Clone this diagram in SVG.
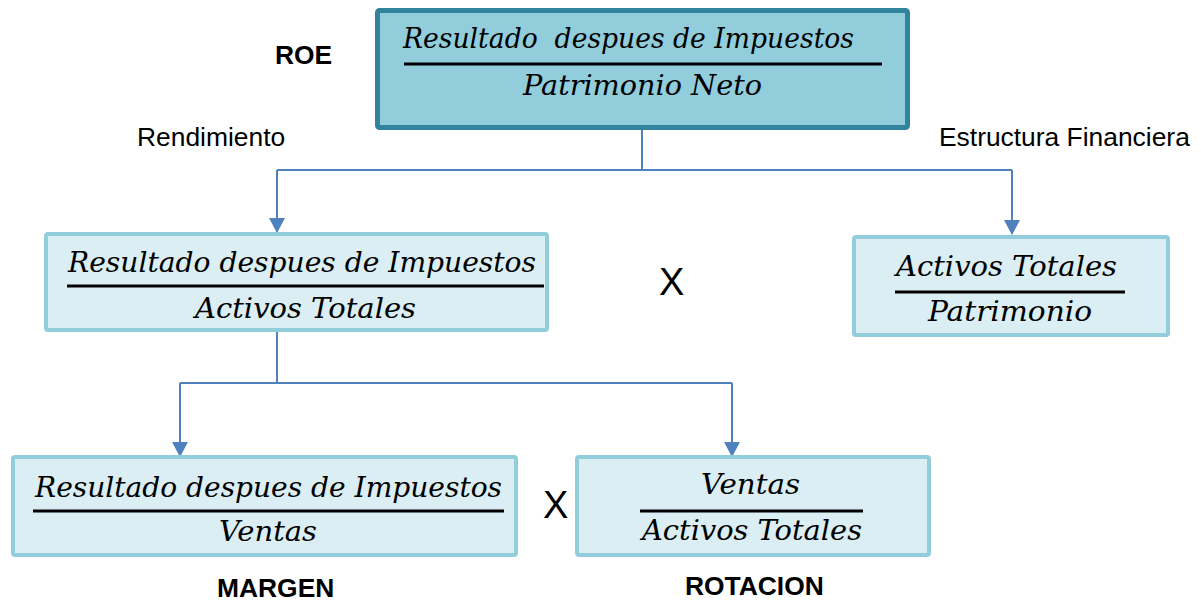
<svg xmlns="http://www.w3.org/2000/svg" width="1201" height="601" viewBox="0 0 1201 601">
<defs>
<style>
.math{font-family:"DejaVu Serif","Liberation Serif",serif;font-style:italic;font-size:28px;fill:#000}
.lbl{font-family:"Liberation Sans",Arial,sans-serif;font-size:26.4px;fill:#000}
.bold{font-weight:bold}
.frac{stroke:#000;stroke-width:3}
.top{fill:#92CDDC;stroke:#31849B;stroke-width:5}
.box{fill:#DAEEF3;stroke:#92CDDC;stroke-width:4}
.conn{fill:none;stroke:#4F81BD;stroke-width:2}
</style>
<marker id="arr" markerWidth="16" markerHeight="15" refX="8" refY="14" orient="0" markerUnits="userSpaceOnUse">
<path d="M0,0 L16,0 L8,15 Z" fill="#4F81BD"/>
</marker>
</defs>
<rect width="1201" height="601" fill="#fff"/>

<g id="connectors">
<path class="conn" d="M642,130 V170"/>
<path class="conn" d="M277,170 H1012"/>
<path class="conn" d="M277,170 V232" marker-end="url(#arr)"/>
<path class="conn" d="M1012,170 V234" marker-end="url(#arr)"/>
<path class="conn" d="M277,332 V383"/>
<path class="conn" d="M180,383 H732"/>
<path class="conn" d="M180,383 V456" marker-end="url(#arr)"/>
<path class="conn" d="M732,383 V456" marker-end="url(#arr)"/>
</g>

<g id="roe">
<rect class="top" x="377.5" y="10.5" width="530" height="117" rx="2"/>
<text class="math" x="403" y="48" textLength="451" lengthAdjust="spacingAndGlyphs" xml:space="preserve">Resultado  despues de Impuestos</text>
<line class="frac" x1="404" y1="64" x2="882" y2="64"/>
<text class="math" x="523" y="95" textLength="239" lengthAdjust="spacingAndGlyphs">Patrimonio Neto</text>
</g>

<g id="rendimiento">
<rect class="box" x="46" y="234" width="501" height="96" rx="2"/>
<text class="math" x="68" y="272" textLength="468" lengthAdjust="spacingAndGlyphs">Resultado despues de Impuestos</text>
<line class="frac" x1="67" y1="286" x2="544" y2="286"/>
<text class="math" x="195" y="318" textLength="221" lengthAdjust="spacingAndGlyphs">Activos Totales</text>
</g>

<g id="estructura">
<rect class="box" x="854" y="237" width="314" height="98" rx="2"/>
<text class="math" x="896" y="276" textLength="221" lengthAdjust="spacingAndGlyphs">Activos Totales</text>
<line class="frac" x1="895" y1="292" x2="1125" y2="292"/>
<text class="math" x="928" y="321" textLength="164" lengthAdjust="spacingAndGlyphs">Patrimonio</text>
</g>

<g id="margen">
<rect class="box" x="13" y="457" width="503" height="98" rx="2"/>
<text class="math" x="35" y="497" textLength="467" lengthAdjust="spacingAndGlyphs">Resultado despues de Impuestos</text>
<line class="frac" x1="33" y1="511" x2="504" y2="511"/>
<text class="math" x="219" y="541" textLength="98" lengthAdjust="spacingAndGlyphs">Ventas</text>
</g>

<g id="rotacion">
<rect class="box" x="577" y="457" width="352" height="98" rx="2"/>
<text class="math" x="701" y="494" textLength="99" lengthAdjust="spacingAndGlyphs">Ventas</text>
<line class="frac" x1="640" y1="511" x2="863" y2="511"/>
<text class="math" x="642" y="540" textLength="220" lengthAdjust="spacingAndGlyphs">Activos Totales</text>
</g>

<g id="labels">
<text class="lbl bold" x="275" y="64">ROE</text>
<text class="lbl" x="137" y="146">Rendimiento</text>
<text class="lbl" x="939" y="146">Estructura Financiera</text>
<text class="lbl" x="659" y="295" style="font-size:38px">X</text>
<text class="lbl" x="543" y="518" style="font-size:38px">X</text>
<text class="lbl bold" x="217" y="597">MARGEN</text>
<text class="lbl bold" x="685" y="595">ROTACION</text>
</g>
</svg>
